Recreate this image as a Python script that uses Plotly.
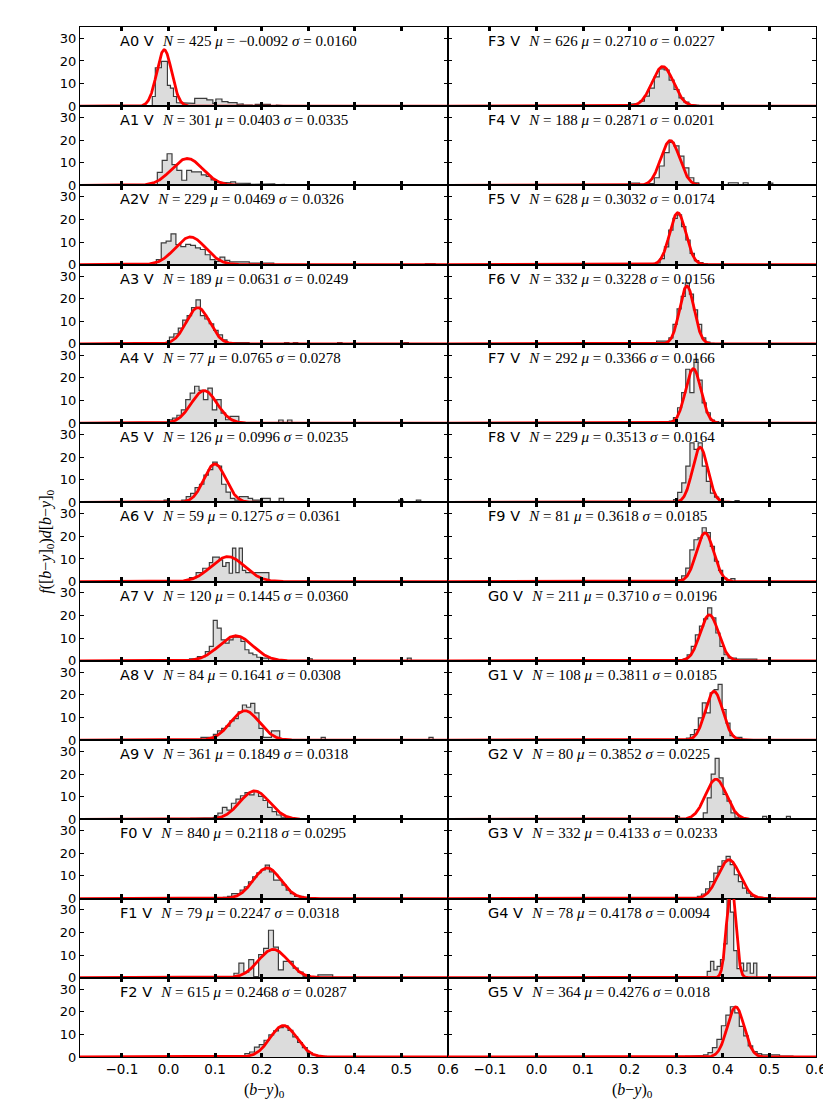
import numpy as np
import plotly.graph_objects as go
from plotly.subplots import make_subplots

# ---------------- data ----------------
left_types = ["A0 V", "A1 V", "A2V", "A3 V", "A4 V", "A5 V", "A6 V", "A7 V", "A8 V", "A9 V", "F0 V", "F1 V", "F2 V"]
right_types = ["F3 V", "F4 V", "F5 V", "F6 V", "F7 V", "F8 V", "F9 V", "G0 V", "G1 V", "G2 V", "G3 V", "G4 V", "G5 V"]

left_n = [425, 301, 229, 189, 77, 126, 59, 120, 84, 361, 840, 79, 615]
right_n = [626, 188, 628, 332, 292, 229, 81, 211, 108, 80, 332, 78, 364]

left_mu = ["−0.0092", "0.0403", "0.0469", "0.0631", "0.0765", "0.0996", "0.1275", "0.1445", "0.1641", "0.1849", "0.2118", "0.2247", "0.2468"]
right_mu = ["0.2710", "0.2871", "0.3032", "0.3228", "0.3366", "0.3513", "0.3618", "0.3710", "0.3811", "0.3852", "0.4133", "0.4178", "0.4276"]

left_sigma = ["0.0160", "0.0335", "0.0326", "0.0249", "0.0278", "0.0235", "0.0361", "0.0360", "0.0308", "0.0318", "0.0295", "0.0318", "0.0287"]
right_sigma = ["0.0227", "0.0201", "0.0174", "0.0156", "0.0166", "0.0164", "0.0185", "0.0196", "0.0185", "0.0225", "0.0233", "0.0094", "0.018"]

# histogram first bin edge and bin width per panel
left_bin_start = [-0.0348, -0.024, -0.0261, -0.0265, -0.001, -0.0095, 0.0451, 0.0451, 0.0696, 0.0478, 0.1087, 0.1405, 0.1639]
left_bin_width = [0.0065, 0.0105, 0.0105, 0.0095, 0.0095, 0.0095, 0.0071, 0.0085, 0.0089, 0.0097, 0.009, 0.0106, 0.0103]
right_bin_start = [0.1787, 0.1999, 0.247, 0.2578, 0.2764, 0.2942, 0.3028, 0.3058, 0.3219, 0.2985, 0.3454, 0.3665, 0.3201]
right_bin_width = [0.0106, 0.0106, 0.0092, 0.0088, 0.0088, 0.0088, 0.0088, 0.0088, 0.0085, 0.0085, 0.0088, 0.0071, 0.0096]

# histogram densities f([b-y]0) per bin
h_A0 = [4.3, 17, 17, 19.8, 19.8, 9.2, 8, 4.3, 1.6, 1.6, 1.3, 1.3, 1.3, 1.3, 3.5, 3.5, 3.5, 3.5, 2.8, 2.8,
        1.3, 3.2, 3.2, 2, 2, 1.6, 1.6, 1.6, 0.8, 1.0, 0.5, 0.8, 0.5, 0.3, 0.8, 0.5, 0.8, 0.5, 0.8, 0.3,
        0, 0.5, 0.3, 0, 0.3, 0, 0, 0, 0.3]
h_A1 = [5.8, 11.1, 14, 9.2, 6.7, 2.3, 6.7, 6, 6, 4.7, 4, 2.5, 1.5, 1.2, 1.2, 1.6, 1.0, 0.7, 0.9, 0.5,
        0.7, 0.5, 0.5, 0.7, 0.3, 0.5]
h_A2 = [2.2, 9.6, 10.4, 13.6, 8.9, 8, 9, 8.5, 7.4, 6.7, 4.4, 2.2, 1.5, 3.3, 1.9, 1.2, 1.2, 1.0, 1.2, 0.7,
        0.5, 0.7, 0.5, 0.7, 0, 0, 0, 0, 0, 0, 0, 0, 0, 0, 0, 0, 0, 0, 0, 0,
        0, 0, 0, 0, 0, 0, 0, 0, 0, 0, 0, 0, 0, 0, 0, 0.5, 0.5]
h_A3 = [0.6, 0.6, 0.6, 3, 4.5, 7, 10.5, 12.5, 16, 19.5, 12.5, 11, 8.9, 6, 4, 1.8, 0.6, 0.6, 0.6, 0.6,
        0.6, 0, 0, 0, 0, 0, 0, 0, 0, 0.6, 0, 0.6, 0, 0, 0, 0, 0, 0, 0, 0,
        0, 0.6, 0, 0, 0, 0, 0, 0, 0, 0, 0, 0, 0, 0, 0, 0, 0.6]
h_A4 = [1.5, 2.2, 3.5, 5.9, 10.4, 13.3, 16.3, 14.5, 10.4, 15.5, 5.9, 10.4, 4.4, 1.5, 3, 3, 0, 0, 0, 0,
        0, 0, 0, 0, 0, 1.4, 0, 1.4]
h_A5 = [1, 0, 0, 0, 1, 2.5, 4, 6.5, 8, 12, 14.5, 17.8, 16, 8, 4.5, 1.8, 1.0, 2.5, 2.5, 1.8,
        1, 1, 1.8, 1.8, 0, 0, 1.8, 0, 0, 0, 0, 0, 0, 0, 0, 0, 0, 0, 0, 0,
        0, 0, 0, 0, 0, 0, 0, 0, 0, 0, 0, 0, 0, 1, 0, 0, 0, 1]
h_A6 = [1.8, 1.8, 4, 4, 5.9, 5.9, 8.4, 10.8, 10.8, 9.6, 6.7, 8.4, 3.7, 14.8, 4, 14.8, 5, 4, 4, 4,
        4, 4, 4, 4]
h_A7 = [0.9, 0.9, 1.9, 1.9, 4.1, 6.4, 17.9, 14.5, 9.3, 7.8, 9.3, 10.5, 10.5, 8.6, 4.9, 3.4, 2.7, 1.6, 1.2, 1.2,
        0, 0, 0, 0, 0, 0, 0, 0, 0, 0, 0.9, 0, 0, 0, 0, 0, 0, 0, 0, 0,
        0, 0, 0, 0, 0, 0, 0, 0, 0, 0, 0, 0, 0, 0, 0, 1.2]
h_A8 = [1.2, 1.2, 1.2, 2.5, 4.1, 5.2, 6.2, 8.5, 9.5, 12.5, 15.5, 14.5, 16.2, 12, 5.2, 1.2, 1.2, 4.1, 4.1, 0,
        0, 0, 0, 0, 0, 0, 0, 0, 0, 1.2, 0, 0, 0, 0, 0, 0, 0, 0, 0, 0,
        0, 0, 0, 0, 0, 0, 0, 0, 0, 0, 0, 0, 0, 0, 0, 1.2]
h_A9 = [0.4, 0.4, 0.4, 0.7, 0.7, 0.9, 2.7, 5.3, 4.1, 7.1, 8.9, 10.4, 11.8, 10.8, 12.3, 10.1, 8.3, 5.3, 3.4, 1.9,
        0.9, 0.5, 0, 0, 0, 0, 0, 0, 0, 0, 0, 0, 0, 0, 0, 0, 0, 0, 0, 0,
        0, 0, 0, 0, 0, 0.3, 0.3, 0, 0.3, 0, 0.3]
h_F0 = [0.3, 0.5, 1, 2.2, 2.2, 3.7, 5.2, 7.4, 9.6, 11.4, 12.6, 14.8, 11.8, 8.1, 8.1, 5.9, 3.7, 2.2, 1, 1,
        0.3, 0.3, 0.3]
h_F1 = [2, 6.5, 2.5, 8, 0.5, 10.2, 13, 21, 13.5, 3.5, 7.2, 7.2, 4.3, 2.5, 0.6, 0, 0, 1.3, 1.3, 1.3]
h_F2 = [1.5, 2.2, 4.4, 5.5, 7.4, 9.8, 11.5, 13, 13.8, 11.8, 8.9, 6.4, 4.1, 1.9, 0.9, 0.5, 0.3]

h_F3 = [0.5, 0.5, 1, 1.2, 2.2, 4.5, 8, 13, 16.5, 16, 11.5, 7.4, 3.7, 1.8, 0.7, 0.4, 0.3, 0.2]
h_F4 = [1, 1, 0, 0, 0.8, 3.4, 8.6, 14.5, 19, 17.5, 13, 7.8, 3.4, 1.2, 0, 0, 0, 0, 0, 0,
        1.2, 1.2, 0, 1.2, 0, 0, 0, 0, 1]
h_F5 = [0.4, 0.8, 2.7, 7.9, 15.3, 20.5, 22, 16.8, 10.9, 5, 1.8, 0.9, 0.4]
h_F6 = [1.2, 1.2, 1.2, 2.7, 8.6, 15.5, 21, 27, 22, 15, 8.6, 2.7, 0.8, 0.3]
h_F7 = [0.5, 0.9, 2.4, 6.8, 13.5, 23.8, 13.5, 28.2, 19, 9, 4.6, 1.3, 0.7]
h_F8 = [1.2, 4.4, 8.6, 16, 26.3, 23.4, 26.3, 16, 9.3, 4.1, 2.3, 0.8, 0, 0, 0, 0.8]
h_F9 = [0.9, 2.5, 6, 14, 18.5, 19.3, 23.8, 21.6, 15.6, 9, 5, 1.6, 0, 1.3]
h_G0 = [0.4, 0.8, 2.7, 6.4, 11.5, 15.3, 18.5, 23.4, 19, 12.3, 6.4, 2.7, 1.2, 1.2, 0.8, 0.8, 0.8, 0.8, 0.8]
h_G1 = [0.9, 2.4, 4.6, 9.8, 16.4, 12, 20.9, 22.3, 24.6, 13.5, 7.5, 2, 1.2, 1.2]
h_G2 = [1.3, 0, 0, 0, 0, 0, 0, 2.8, 9.5, 20, 26.9, 18.3, 11, 8, 2.8, 0.9, 0, 0, 0, 0,
        0, 0, 1.3, 0, 0, 0, 0, 0, 1.3]
h_G3 = [1, 2, 4.3, 7.5, 11.2, 14.2, 16.7, 18.6, 15, 10.5, 7.5, 4.6, 2.4, 1, 0.5, 0.5, 0.5, 0.5, 0.3]
h_G4 = [2.8, 7.2, 3.5, 5, 8, 15, 45, 29, 12, 4, 6.5, 3, 6.5, 2, 6.5]
h_G5 = [0.3, 0.3, 0.3, 0.6, 0.9, 1.9, 4.1, 7.8, 13.8, 18.5, 22.2, 19.5, 13.5, 9.3, 4.9, 2.4, 1.5, 0.9, 0.9, 0.9,
        0.9, 0.4, 0.4, 0.4]

left_hist = [h_A0, h_A1, h_A2, h_A3, h_A4, h_A5, h_A6, h_A7, h_A8, h_A9, h_F0, h_F1, h_F2]
right_hist = [h_F3, h_F4, h_F5, h_F6, h_F7, h_F8, h_F9, h_G0, h_G1, h_G2, h_G3, h_G4, h_G5]

x_tick_vals = [-0.1, 0.0, 0.1, 0.2, 0.3, 0.4, 0.5, 0.6]
x_tick_text = ["−0.1", "0.0", "0.1", "0.2", "0.3", "0.4", "0.5", "0.6"]
y_tick_vals = [0, 10, 20, 30]
y_tick_text = ["0", "10", "20", "30"]

X_RANGE = [-0.19, 0.6]
Y_RANGE = [0, 35]

# ---------------- figure ----------------
NROWS = 13
fig = make_subplots(rows=NROWS, cols=2, horizontal_spacing=0, vertical_spacing=0)

SERIF = "Liberation Serif"
SANS = "DejaVu Sans"

columns = [
    (left_types, left_n, left_mu, left_sigma, left_bin_start, left_bin_width, left_hist),
    (right_types, right_n, right_mu, right_sigma, right_bin_start, right_bin_width, right_hist),
]

xgrid = np.linspace(X_RANGE[0], X_RANGE[1], 1600)

annotations = []
for c, (types, ns, mus, sigs, starts, widths, hists) in enumerate(columns):
    col = c + 1
    for r in range(NROWS):
        row = r + 1
        vals = np.array(hists[r], dtype=float)
        edges = starts[r] + widths[r] * np.arange(len(vals) + 1)
        xs = [edges[0]]
        ys = [0.0]
        for i, v in enumerate(vals):
            xs += [edges[i], edges[i + 1]]
            ys += [v, v]
        xs.append(edges[-1])
        ys.append(0.0)
        fig.add_trace(go.Scatter(x=xs, y=ys, mode="lines", fill="toself",
                                 fillcolor="#dcdcdc",
                                 line=dict(color="#3c3c3c", width=1.2),
                                 hoverinfo="skip", showlegend=False),
                      row=row, col=col)
        mu = float(mus[r].replace("−", "-"))
        sg = float(sigs[r])
        g = np.exp(-0.5 * ((xgrid - mu) / sg) ** 2) / (sg * np.sqrt(2 * np.pi))
        fig.add_trace(go.Scatter(x=xgrid, y=g, mode="lines",
                                 line=dict(color="#ff0000", width=2.8),
                                 hoverinfo="skip", showlegend=False),
                      row=row, col=col)
        idx = r * 2 + col
        sfx = "" if idx == 1 else str(idx)
        txt = (f"{types[r]}\u00a0\u00a0<span style=\"font-family:'{SERIF}';font-size:15px\">"
               f"<i>N</i>\u00a0=\u00a0{ns[r]} <i>μ</i>\u00a0=\u00a0{mus[r]} "
               f"<i>σ</i>\u00a0=\u00a0{sigs[r]}</span>")
        annotations.append(dict(text=txt, xref=f"x{sfx} domain", yref=f"y{sfx} domain",
                                x=0.102, y=1 - 14 / 79.2, xanchor="left", yanchor="middle",
                                showarrow=False, font=dict(family=SANS, size=14.5, color="black")))

fig.update_xaxes(range=X_RANGE, tickvals=x_tick_vals, ticktext=x_tick_text,
                 ticks="inside", ticklen=4, tickwidth=2.5, tickcolor="black",
                 showline=True, linewidth=1.3, linecolor="black", mirror="ticks",
                 showgrid=False, zeroline=False, showticklabels=False,
                 tickfont=dict(family=SANS, size=13.5, color="black"))
fig.update_yaxes(range=Y_RANGE, tickvals=y_tick_vals, ticktext=y_tick_text,
                 ticks="inside", ticklen=4, tickwidth=1, tickcolor="black",
                 showline=True, linewidth=1.3, linecolor="black", mirror="ticks",
                 showgrid=False, zeroline=False, showticklabels=False,
                 tickfont=dict(family=SANS, size=13, color="black"))
fig.update_xaxes(showticklabels=True, row=NROWS, col=1)
fig.update_xaxes(showticklabels=True, row=NROWS, col=2)
fig.update_yaxes(showticklabels=True, col=1)

xlabel = "(<i>b</i>−<i>y</i>)<sub>0</sub>"
ylabel = "<i>f</i>([<i>b</i>−<i>y</i>]<sub>0</sub>)<i>d</i>[<i>b</i>−<i>y</i>]<sub>0</sub>"
for xc in (0.25, 0.75):
    annotations.append(dict(text=xlabel, xref="paper", yref="paper", x=xc, y=-0.0327,
                            xanchor="center", yanchor="middle", showarrow=False,
                            font=dict(family=SERIF, size=16, color="black")))
annotations.append(dict(text=ylabel, xref="paper", yref="paper", x=-0.0465, y=0.5,
                        xanchor="center", yanchor="middle", textangle=-90, showarrow=False,
                        font=dict(family=SERIF, size=16, color="black")))

fig.update_layout(width=831, height=1119,
                  margin=dict(l=72, r=17, t=19, b=70, pad=0),
                  paper_bgcolor="white", plot_bgcolor="white",
                  showlegend=False, annotations=annotations)

fig.write_html("out.html")
